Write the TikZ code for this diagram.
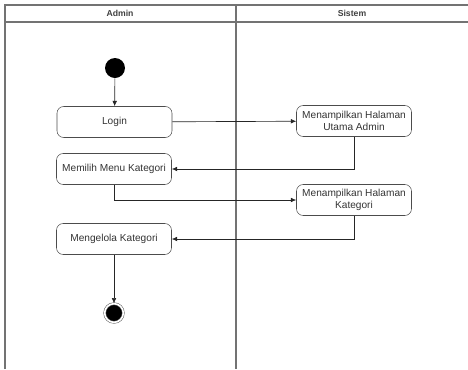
\documentclass[tikz,border=0pt]{standalone}
\usepackage{fontspec}
\setmainfont{Liberation Sans}
\usetikzlibrary{arrows.meta, calc}
\tikzset{
    act/.style={draw=black!70, rounded corners=5pt, minimum height=31pt*0.75, minimum width=115*0.75pt, inner sep=1pt, align=center, font=\fontsize{7.6}{8.6}\selectfont, text=black!80},
    startst/.style={circle, fill=black, inner sep=0pt, minimum size=15pt},
    endst/.style={circle, draw=black!60, fill=black, double=white, double distance=1.2pt, inner sep=0pt, minimum size=14pt},
    lane/.style={draw=black!55, line width=0.9pt},
    flow/.style={-{Latex[length=4pt,width=3.5pt]}, draw=black!85, line width=0.5pt},
    hdr/.style={font=\fontsize{6.5}{7.5}\selectfont\bfseries, text=black!75}
}
\begin{document}
\begin{tikzpicture}[x=0.75pt, y=-0.75pt]
    \useasboundingbox (0,0) rectangle (468,369);
    % swimlanes
    \draw[lane] (5,369) -- (5,5) -- (468,5);
    \draw[lane] (5,22) -- (468,22);
    \draw[lane] (236,5) -- (236,369);
    \node[hdr] (hadmin) at (120,13.5) {Admin};
    \node[hdr] (hsistem) at (352,13.5) {Sistem};

    \node[startst] (start) at (115,68) {};
    \node[act] (login) at (114.5,122) {Login};
    \node[act] (menu) at (114,169) {Memilih Menu Kategori};
    \node[act] (utama) at (354,121) {Menampilkan Halaman\\Utama Admin};
    \node[act] (kat) at (354,200) {Menampilkan Halaman\\Kategori};
    \node[act] (kelola) at (114,239) {Mengelola Kategori};
    \node[endst] (stop) at (114,313) {};

    \draw[flow] (start) -- (login);
    \draw[flow] (login) -- (utama);
    \draw[flow] (utama) |- (menu);
    \draw[flow] (menu) |- (kat);
    \draw[flow] (kat) |- (kelola);
    \draw[flow] (kelola) -- (stop);
\end{tikzpicture}
\end{document}
